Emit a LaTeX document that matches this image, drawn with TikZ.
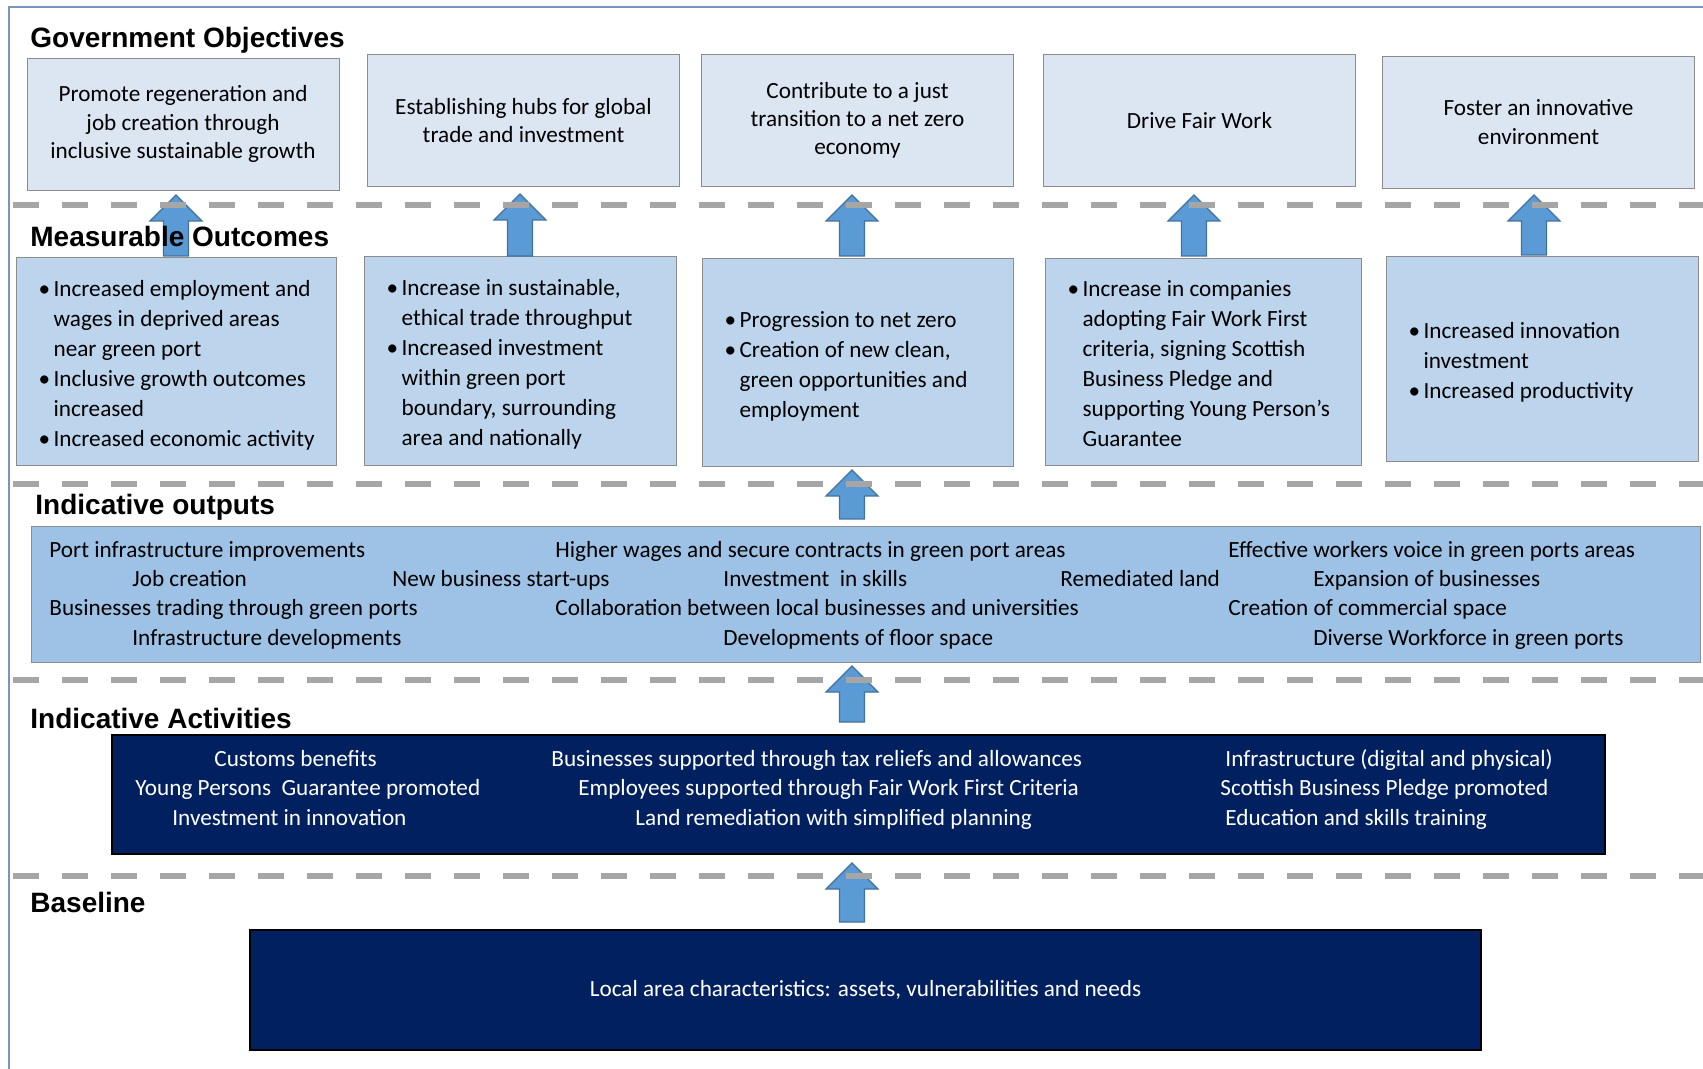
\documentclass[tikz,border=0pt]{standalone}
\usepackage{fontspec}
\setmainfont{Carlito}
\newfontfamily\headfont{Liberation Sans}
\definecolor{goalfill}{RGB}{220,230,242}
\definecolor{outcomefill}{RGB}{188,212,236}
\definecolor{outputfill}{RGB}{157,194,229}
\definecolor{navy}{RGB}{0,32,96}
\definecolor{arrowfill}{RGB}{91,155,213}
\definecolor{arrowline}{RGB}{65,113,156}
\definecolor{sepgray}{RGB}{166,166,166}
\definecolor{framecol}{RGB}{120,150,185}
\definecolor{boxline}{RGB}{140,140,140}
\newcommand\bul{\makebox[7.5pt][l]{\textbullet}}
\tikzset{
  heading/.style={anchor=base west, inner sep=0pt, font=\headfont\bfseries\fontsize{14pt}{16pt}\selectfont},
  goal/.style={draw=boxline, fill=goalfill, minimum width=156pt, minimum height=66pt, align=center, font=\fontsize{11.6pt}{14.1pt}\selectfont},
  outcome/.style={draw=boxline, fill=outcomefill},
  bullets/.style={anchor=west, inner sep=0pt, yshift=-2.2pt, font=\fontsize{11.6pt}{15pt}\selectfont},
  outputs/.style={draw=boxline, fill=outputfill, minimum width=834.25pt, minimum height=68pt},
  activity/.style={draw=black, line width=0.8pt, fill=navy, minimum width=746.5pt, minimum height=59.5pt},
  basebox/.style={draw=black, line width=0.8pt, fill=navy, text=white, minimum width=615.5pt, minimum height=60pt, font=\fontsize{11.6pt}{14.6pt}\selectfont},
  txt/.style={anchor=base west, inner sep=0pt, font=\fontsize{11.6pt}{14.6pt}\selectfont},
  wtxt/.style={txt, text=white},
  sepline/.style={draw=sepgray, line width=3pt, dash pattern=on 13pt off 11.5pt},
  uparr/.pic={\filldraw[fill=arrowfill, draw=arrowline, line width=0.6pt]
    (-12.5,0) -- (-12.5,{26-#1}) -- (-26,{26-#1}) -- (0,{-#1}) -- (26,{26-#1}) -- (12.5,{26-#1}) -- (12.5,0) -- cycle;}
}
\begin{document}
\begin{tikzpicture}[x=0.5pt, y=-0.5pt]
\useasboundingbox (0,0) rectangle (1703,1069);
\draw[framecol, line width=1pt] (9,1069) -- (9,7) -- (1703,7);

% government objectives
\node[goal] (go1) at (183,124) {Promote regeneration and\\job creation through\\inclusive sustainable growth};
\node[goal] (go2) at (523.5,120.5) {Establishing hubs for global\\trade and investment};
\node[goal] (go3) at (857.5,120.5) {Contribute to a just\\transition to a net zero\\economy};
\node[goal] (go4) at (1199.5,120.5) {Drive Fair Work};
\node[goal] (go5) at (1538.5,122) {Foster an innovative\\environment};

% measurable outcomes
\node[outcome, minimum width=160pt, minimum height=104pt] (mo1) at (176,361) {};
\node[outcome, minimum width=156pt, minimum height=104.5pt] (mo2) at (520,360.5) {};
\node[outcome, minimum width=155.5pt, minimum height=104pt] (mo3) at (857.5,362) {};
\node[outcome, minimum width=158pt, minimum height=103.5pt] (mo4) at (1203,361.5) {};
\node[outcome, minimum width=156pt, minimum height=102.5pt] (mo5) at (1542,358.5) {};
\node[bullets] (mt1) at ([xshift=11.3pt]mo1.west) {\begin{tabular}{@{}l@{}l@{}}
\bul & Increased employment and\\
 & wages in deprived areas\\
 & near green port\\
\bul & Inclusive growth outcomes\\
 & increased\\
\bul & Increased economic activity
\end{tabular}};
\node[bullets] (mt2) at ([xshift=11.3pt]mo2.west) {\begin{tabular}{@{}l@{}l@{}}
\bul & Increase in sustainable,\\
 & ethical trade throughput\\
\bul & Increased investment\\
 & within green port\\
 & boundary, surrounding\\
 & area and nationally
\end{tabular}};
\node[bullets] (mt3) at ([xshift=11.3pt]mo3.west) {\begin{tabular}{@{}l@{}l@{}}
\bul & Progression to net zero\\
\bul & Creation of new clean,\\
 & green opportunities and\\
 & employment
\end{tabular}};
\node[bullets] (mt4) at ([xshift=11.3pt]mo4.west) {\begin{tabular}{@{}l@{}l@{}}
\bul & Increase in companies\\
 & adopting Fair Work First\\
 & criteria, signing Scottish\\
 & Business Pledge and\\
 & supporting Young Person’s\\
 & Guarantee
\end{tabular}};
\node[bullets] (mt5) at ([xshift=11.3pt]mo5.west) {\begin{tabular}{@{}l@{}l@{}}
\bul & Increased innovation\\
 & investment\\
\bul & Increased productivity
\end{tabular}};

% indicative outputs
\node[outputs] (out) at (865.75,594) {};
\node[txt] (o1) at (49,557) {Port infrastructure improvements};
\node[txt] (o2) at (555,557) {Higher wages and secure contracts in green port areas};
\node[txt] (o3) at (1228,557) {Effective workers voice in green ports areas};
\node[txt] (o4) at (132,586) {Job creation};
\node[txt] (o5) at (392,586) {New business start-ups};
\node[txt] (o6) at (723,586) {Investment~ in skills};
\node[txt] (o7) at (1060,586) {Remediated land};
\node[txt] (o8) at (1313,586) {Expansion of businesses};
\node[txt] (o9) at (49,615) {Businesses trading through green ports};
\node[txt] (o10) at (555,615) {Collaboration between local businesses and universities};
\node[txt] (o11) at (1228,615) {Creation of commercial space};
\node[txt] (o12) at (132,645) {Infrastructure developments};
\node[txt] (o13) at (723,645) {Developments of floor space};
\node[txt] (o14) at (1313,645) {Diverse Workforce in green ports};

% indicative activities
\node[activity] (act) at (858.5,794.5) {};
\node[wtxt] (a1) at (214,766) {Customs benefits};
\node[wtxt] (a2) at (135,795.5) {Young Persons~ Guarantee promoted};
\node[wtxt] (a3) at (172,825) {Investment in innovation};
\node[wtxt] (a4) at (551,766) {Businesses supported through tax reliefs and allowances};
\node[wtxt] (a5) at (578,795.5) {Employees supported through Fair Work First Criteria};
\node[wtxt] (a6) at (635,825) {Land remediation with simplified planning};
\node[wtxt] (a7) at (1225,766) {Infrastructure (digital and physical)};
\node[wtxt] (a8) at (1220,795.5) {Scottish Business Pledge promoted};
\node[wtxt] (a9) at (1225,825) {Education and skills training};

% baseline
\node[basebox] (base) at (865.5,990) {Local area characteristics: assets, vulnerabilities and needs};

% arrows between layers
\pic at (176,256) {uparr=61};
\pic at (520,256) {uparr=62};
\pic at (852,256) {uparr=61};
\pic at (1194,256) {uparr=61};
\pic at (1534,255) {uparr=60};
\pic at (852,519) {uparr=49};
\pic at (852,722) {uparr=56};
\pic at (852,922) {uparr=59};

% separators
\foreach \y in {205,484,680,876}
  \draw[sepline] (13,\y) -- (1703,\y);

% layer headings
\node[heading] (hgo) at (30,48) {Government Objectives};
\node[heading] (hmo) at (30,247) {Measurable Outcomes};
\node[heading] (hio) at (35,515) {Indicative outputs};
\node[heading] (hia) at (30,728) {Indicative Activities};
\node[heading] (hbl) at (30,912) {Baseline};
\end{tikzpicture}
\end{document}
